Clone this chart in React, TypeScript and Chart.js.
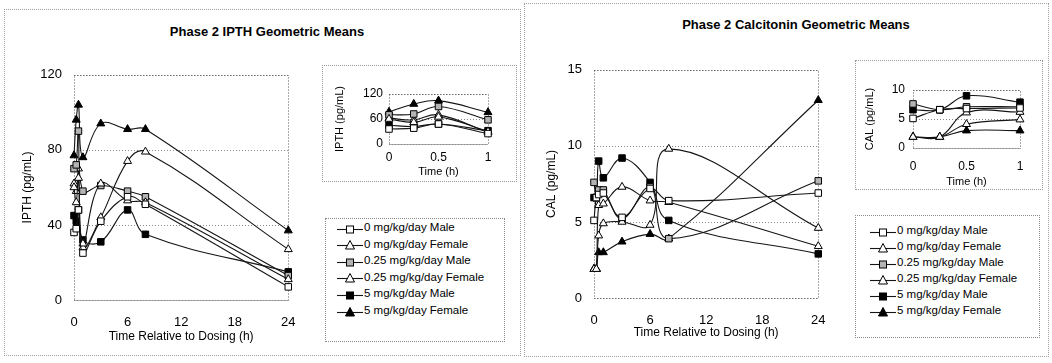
import React, { useEffect, useRef } from 'react';
import { Chart, registerables } from 'chart.js';

Chart.register(...registerables);

// ---------- data ----------
const TIMES = [0, 0.25, 0.5, 1, 3, 6, 8, 24];

const SERIES_LABELS = [
  '0 mg/kg/day Male',
  '0 mg/kg/day Female',
  '0.25 mg/kg/day Male',
  '0.25 mg/kg/day Female',
  '5 mg/kg/day Male',
  '5 mg/kg/day Female',
];

const IPTH_0_MALE = [36, 38, 48, 25, 42, 55, 51, 7];
const IPTH_0_FEMALE = [60, 52, 65, 30, 62, 53, 52, 11];
const IPTH_025_MALE = [70, 72, 90, 58, 61, 58, 55, 13];
const IPTH_025_FEMALE = [62, 58, 70, 28, 44, 74, 79, 27];
const IPTH_5_MALE = [45, 42, 48, 32, 31, 48, 35, 15];
const IPTH_5_FEMALE = [77, 96, 104, 76, 94, 91, 91, 37];

const CAL_0_MALE = [5.1, 6.6, 6.8, 6.9, 5.3, 7.2, 6.4, 6.9];
const CAL_0_FEMALE = [1.9, 1.9, 4.1, 4.9, 5.0, 4.8, 9.8, 4.6];
const CAL_025_MALE = [7.6, 6.6, 7.1, 7.1, 5.2, 7.3, 3.9, 7.7];
const CAL_025_FEMALE = [1.9, 1.9, 6.1, 6.2, 7.3, 6.4, 6.3, 3.4];
const CAL_5_MALE = [6.6, 6.6, 9.0, 7.9, 9.2, 7.6, 5.1, 2.9];
const CAL_5_FEMALE = [1.9, 1.9, 3.0, 3.0, 3.7, 4.2, 3.9, 13.0];

const MAIN_X_TICKS = [0, 6, 12, 18, 24];
const INSET_X_TICKS = [0, 0.5, 1];
const IPTH_Y_TICKS = [0, 40, 80, 120];
const IPTH_INSET_Y_TICKS = [0, 60, 120];
const CAL_Y_TICKS = [0, 5, 10, 15];
const CAL_INSET_Y_TICKS = [0, 5, 10];

const IPTH_SERIES = [IPTH_0_MALE, IPTH_0_FEMALE, IPTH_025_MALE, IPTH_025_FEMALE, IPTH_5_MALE, IPTH_5_FEMALE];
const CAL_SERIES = [CAL_0_MALE, CAL_0_FEMALE, CAL_025_MALE, CAL_025_FEMALE, CAL_5_MALE, CAL_5_FEMALE];

// ---------- styles ----------
const FONT = '"Liberation Sans", Arial, sans-serif';
const SERIES_STYLES = [
  { shape: 'rect', fill: '#ffffff' },
  { shape: 'triangle', fill: '#ffffff' },
  { shape: 'rect', fill: '#b4b4b4' },
  { shape: 'triangle', fill: '#ffffff' },
  { shape: 'rect', fill: '#000000' },
  { shape: 'triangle', fill: '#000000' },
];

const framePlugin = {
  id: 'frame',
  beforeDatasetsDraw(chart: any) {
    const { ctx, chartArea: a, scales } = chart;
    const y = scales.y;
    ctx.save();
    ctx.lineWidth = 1;
    ctx.setLineDash([1, 2]);
    ctx.strokeStyle = '#8a8a8a';
    y.ticks.forEach((t: any) => {
      const py = Math.round(y.getPixelForValue(t.value)) + 0.5;
      ctx.beginPath();
      ctx.moveTo(a.left, py);
      ctx.lineTo(a.right, py);
      ctx.stroke();
    });
    ctx.strokeStyle = '#555';
    ctx.strokeRect(Math.round(a.left) + 0.5, Math.round(a.top) + 0.5, Math.round(a.right - a.left), Math.round(a.bottom - a.top));
    ctx.restore();
  },
};

type Geo = { left: number; top: number; width: number; height: number; yW: number; xH: number; padTop: number; padRight: number };
type Txt = { tick: number; title: number; xTickPad: number; yTickPad: number; yTitlePad: number; xTitlePad: number };

function PlotCanvas(props: {
  geo: Geo; txt: Txt; series: number[][]; maxT: number; xTicks: number[]; yTicks: number[]; xTitle: string; yTitle: string; radius: number;
}) {
  const ref = useRef<HTMLCanvasElement>(null);
  useEffect(() => {
    const { geo, txt, series, maxT, xTicks, yTicks, xTitle, yTitle, radius } = props;
    const idx = TIMES.map((_, i) => i).filter((i) => TIMES[i] <= maxT);
    const datasets = series.map((vals, s) => ({
      label: SERIES_LABELS[s],
      data: idx.map((i) => ({ x: TIMES[i], y: vals[i] })),
      borderColor: '#151515',
      borderWidth: 1.1,
      tension: 0.4,
      fill: false,
      clip: false as any,
      pointStyle: SERIES_STYLES[s].shape as any,
      pointRadius: radius,
      pointBackgroundColor: SERIES_STYLES[s].fill,
      pointBorderColor: '#000',
      pointBorderWidth: 1,
    }));
    const chart = new Chart(ref.current as HTMLCanvasElement, {
      type: 'line',
      data: { datasets },
      options: {
        animation: false,
        responsive: false,
        devicePixelRatio: 1,
        layout: { padding: { top: geo.padTop, right: geo.padRight, left: 0, bottom: 0 } },
        plugins: { legend: { display: false }, tooltip: { enabled: false } },
        scales: {
          x: {
            type: 'linear',
            min: xTicks[0],
            max: xTicks[xTicks.length - 1],
            grid: { display: false, drawTicks: false },
            border: { display: false },
            afterBuildTicks: (s: any) => { s.ticks = xTicks.map((v) => ({ value: v })); },
            afterFit: (s: any) => { s.height = geo.xH; },
            ticks: {
              color: '#000', font: { family: FONT, size: txt.tick }, padding: txt.xTickPad, maxRotation: 0, autoSkip: false,
              callback: (v: any) => String(v),
            },
            title: { display: true, text: xTitle, color: '#000', font: { family: FONT, size: txt.title }, padding: { top: 0, bottom: txt.xTitlePad } },
          },
          y: {
            type: 'linear',
            min: yTicks[0],
            max: yTicks[yTicks.length - 1],
            grid: { display: false, drawTicks: false },
            border: { display: false },
            afterBuildTicks: (s: any) => { s.ticks = yTicks.map((v) => ({ value: v })); },
            afterFit: (s: any) => { s.width = geo.yW; },
            ticks: { color: '#000', font: { family: FONT, size: txt.tick }, padding: txt.yTickPad, callback: (v: any) => String(v) },
            title: { display: true, text: yTitle, color: '#000', font: { family: FONT, size: txt.title }, padding: { top: txt.yTitlePad, bottom: 0 } },
          },
        },
      } as any,
      plugins: [framePlugin],
    });
    return () => chart.destroy();
  }, []);
  const g = props.geo;
  return (
    <canvas
      ref={ref}
      width={g.width}
      height={g.height}
      style={{ position: 'absolute', left: g.left, top: g.top, width: g.width, height: g.height }}
    />
  );
}

function Sample({ s }: { s: number }) {
  const st = SERIES_STYLES[s];
  return (
    <svg width={26} height={12} style={{ display: 'block' }}>
      <line x1={0} y1={6.5} x2={26} y2={6.5} stroke="#151515" strokeWidth={1.1} />
      {st.shape === 'rect' ? (
        <rect x={9.5} y={3} width={7} height={7} fill={st.fill} stroke="#000" strokeWidth={1} />
      ) : (
        <polygon points="13,1.5 17.5,10 8.5,10" fill={st.fill} stroke="#000" strokeWidth={1} />
      )}
    </svg>
  );
}

function Legend(props: { left: number; top: number; width: number; height: number; rowTop: number; rowStep: number; sampleLeft: number; textLeft: number }) {
  const p = props;
  return (
    <>
      <div style={{ position: 'absolute', left: p.left, top: p.top, width: p.width, height: p.height, border: '1px dotted #8a8a8a', boxSizing: 'border-box' }} />
      {SERIES_LABELS.map((lab, i) => {
        const cy = p.rowTop + i * p.rowStep;
        return (
          <React.Fragment key={lab}>
            <div style={{ position: 'absolute', left: p.sampleLeft, top: cy - 6.5 }}>
              <Sample s={i} />
            </div>
            <div style={{ position: 'absolute', left: p.textLeft, top: cy - 8, height: 16, lineHeight: '16px', font: `11.5px ${FONT}`, color: '#000', whiteSpace: 'nowrap' }}>
              {lab}
            </div>
          </React.Fragment>
        );
      })}
    </>
  );
}

const box = (left: number, top: number, width: number, height: number, color = '#9a9a9a') => (
  <div style={{ position: 'absolute', left, top, width, height, border: `1px dotted ${color}`, boxSizing: 'border-box' }} />
);

export default function App() {
  const mainTxtL: Txt = { tick: 13, title: 12, xTickPad: 14.5, yTickPad: 12, yTitlePad: 10.8, xTitlePad: 2.8 };
  const mainTxtR: Txt = { tick: 13, title: 12, xTickPad: 14.5, yTickPad: 12, yTitlePad: 14.8, xTitlePad: 4.8 };
  const insetTxtL: Txt = { tick: 12, title: 11, xTickPad: 6, yTickPad: 6, yTitlePad: 3.4, xTitlePad: 3.4 };
  const insetTxtR: Txt = { tick: 12, title: 11, xTickPad: 11.5, yTickPad: 8, yTitlePad: 3.4, xTitlePad: 1.4 };
  return (
    <div style={{ position: 'absolute', left: 0, top: 0, width: 1052, height: 363, background: '#fff', overflow: 'hidden' }}>
      {box(4, 9, 517, 347, '#a0a0a0')}
      {box(524, 3, 525, 354, '#a0a0a0')}

      <div style={{ position: 'absolute', left: 67, top: 24, width: 400, textAlign: 'center', font: `bold 13px ${FONT}`, lineHeight: '16px', color: '#000' }}>
        Phase 2 IPTH Geometric Means
      </div>
      <div style={{ position: 'absolute', left: 596, top: 17, width: 400, textAlign: 'center', font: `bold 13px ${FONT}`, lineHeight: '16px', color: '#000' }}>
        Phase 2 Calcitonin Geometric Means
      </div>

      <PlotCanvas
        geo={{ left: 10, top: 55, width: 300, height: 292, yW: 64, xH: 47, padTop: 12, padRight: 10 }}
        txt={mainTxtL}
        series={IPTH_SERIES}
        maxT={24}
        xTicks={MAIN_X_TICKS}
        yTicks={IPTH_Y_TICKS}
        xTitle="Time Relative to Dosing (h)"
        yTitle="IPTH (pg/mL)"
        radius={4.6}
      />
      {box(322, 65, 195, 117)}
      <PlotCanvas
        geo={{ left: 330, top: 70, width: 180, height: 112, yW: 59, xH: 38, padTop: 24, padRight: 22 }}
        txt={insetTxtL}
        series={IPTH_SERIES}
        maxT={1}
        xTicks={INSET_X_TICKS}
        yTicks={IPTH_INSET_Y_TICKS}
        xTitle="Time (h)"
        yTitle="IPTH (pg/mL)"
        radius={4.6}
      />
      <Legend left={325} top={218} width={180} height={124} rowTop={229} rowStep={16.6} sampleLeft={337} textLeft={364} />

      <PlotCanvas
        geo={{ left: 530, top: 50, width: 310, height: 295, yW: 64, xH: 47, padTop: 12, padRight: 12 }}
        txt={mainTxtR}
        series={CAL_SERIES}
        maxT={24}
        xTicks={MAIN_X_TICKS}
        yTicks={CAL_Y_TICKS}
        xTitle="Time Relative to Dosing (h)"
        yTitle="CAL (pg/mL)"
        radius={4.6}
      />
      {box(855, 60, 188, 130)}
      <PlotCanvas
        geo={{ left: 860, top: 70, width: 175, height: 120, yW: 53, xH: 42, padTop: 20, padRight: 15 }}
        txt={insetTxtR}
        series={CAL_SERIES}
        maxT={1}
        xTicks={INSET_X_TICKS}
        yTicks={CAL_INSET_Y_TICKS}
        xTitle="Time (h)"
        yTitle="CAL (pg/mL)"
        radius={4.6}
      />
      <Legend left={855} top={215} width={185} height={123} rowTop={232} rowStep={16} sampleLeft={870} textLeft={897} />
    </div>
  );
}
